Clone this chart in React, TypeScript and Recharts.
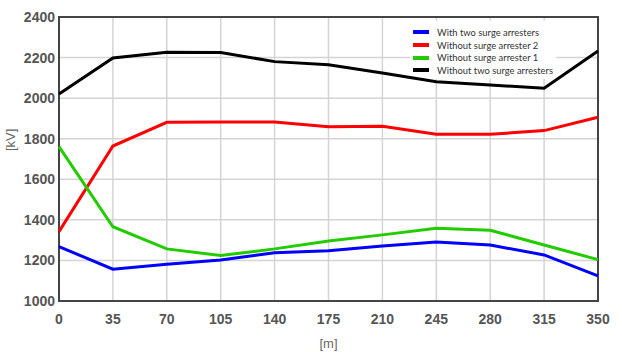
import { LineChart, Line, XAxis, YAxis, CartesianGrid, Legend, ReferenceArea } from "recharts";

const distances = [0, 35, 70, 105, 140, 175, 210, 245, 280, 315, 350];
const withTwo = [1268, 1157, 1181, 1202, 1238, 1248, 1271, 1291, 1276, 1227, 1124];
const withoutArr2 = [1342, 1764, 1881, 1882, 1882, 1859, 1861, 1822, 1822, 1840, 1906];
const withoutArr1 = [1761, 1366, 1257, 1224, 1257, 1296, 1326, 1359, 1349, 1276, 1204];
const withoutTwo = [2020, 2198, 2226, 2225, 2180, 2165, 2124, 2081, 2065, 2049, 2232];
const yTicks = [1000, 1200, 1400, 1600, 1800, 2000, 2200, 2400];
const legendOrder = [
  "With two surge arresters",
  "Without surge arrester 2",
  "Without surge arrester 1",
  "Without two surge arresters",
];

const data = distances.map((d, i) => ({
  d,
  withTwo: withTwo[i],
  withoutArr2: withoutArr2[i],
  withoutArr1: withoutArr1[i],
  withoutTwo: withoutTwo[i],
}));

const tickStyle = {
  fontSize: 14,
  fill: "#555",
  fontFamily: "'Liberation Sans Narrow', 'Liberation Sans'",
  fontWeight: "bold",
};

function LegendBox({ payload }: any) {
  const items = [...(payload || [])].sort(
    (a: any, b: any) => legendOrder.indexOf(a.value) - legendOrder.indexOf(b.value)
  );
  return (
    <div style={{ fontFamily: "Lato", fontSize: 9.4, color: "#333", whiteSpace: "nowrap" }}>
      {items.map((p: any) => (
        <div key={p.value} style={{ display: "flex", alignItems: "center", height: 12.7 }}>
          <span style={{ display: "inline-block", width: 16, height: 4, background: p.color, marginRight: 8 }} />
          <span>{p.value}</span>
        </div>
      ))}
    </div>
  );
}

export default function App() {
  return (
    <div style={{ position: "absolute", left: 0, top: 0, width: 622, height: 352, background: "#fff" }}>
      <LineChart width={622} height={352} data={data} margin={{ top: 17, right: 24, bottom: 21, left: 0 }}>
        <CartesianGrid stroke="#d4d4d4" strokeWidth={1.5} />
        <XAxis
          dataKey="d"
          type="number"
          domain={[0, 350]}
          ticks={distances}
          tick={tickStyle}
          tickSize={0}
          tickMargin={13}
          axisLine={false}
          height={30}
          label={{ value: "[m]", position: "insideBottom", offset: -17, fill: "#666", fontSize: 13, fontFamily: "Liberation Sans" }}
        />
        <YAxis
          type="number"
          domain={[1000, 2400]}
          ticks={yTicks}
          tick={tickStyle}
          tickSize={0}
          tickMargin={4}
          axisLine={false}
          width={59}
          label={{ value: "[kV]", angle: -90, position: "insideLeft", offset: 10, dy: -8, fill: "#666", fontSize: 13, fontFamily: "Liberation Sans" }}
        />
        <ReferenceArea x1={228} x2={323} y1={2095} y2={2382} fill="#fff" fillOpacity={1} stroke="none" />
        <ReferenceArea x1={0} x2={350} y1={1000} y2={2400} fill="none" stroke="#444" strokeWidth={2} />
        <Legend
          layout="horizontal"
          verticalAlign="middle"
          align="center"
          wrapperStyle={{ left: 413, top: 26, width: 160 }}
          content={<LegendBox />}
        />
        <Line dataKey="withTwo" name="With two surge arresters" stroke="#0000ff" strokeWidth={3} dot={false} isAnimationActive={false} />
        <Line dataKey="withoutArr2" name="Without surge arrester 2" stroke="#ff0000" strokeWidth={3} dot={false} isAnimationActive={false} />
        <Line dataKey="withoutArr1" name="Without surge arrester 1" stroke="#22cc00" strokeWidth={3} dot={false} isAnimationActive={false} />
        <Line dataKey="withoutTwo" name="Without two surge arresters" stroke="#000000" strokeWidth={3} dot={false} isAnimationActive={false} />
      </LineChart>
    </div>
  );
}
